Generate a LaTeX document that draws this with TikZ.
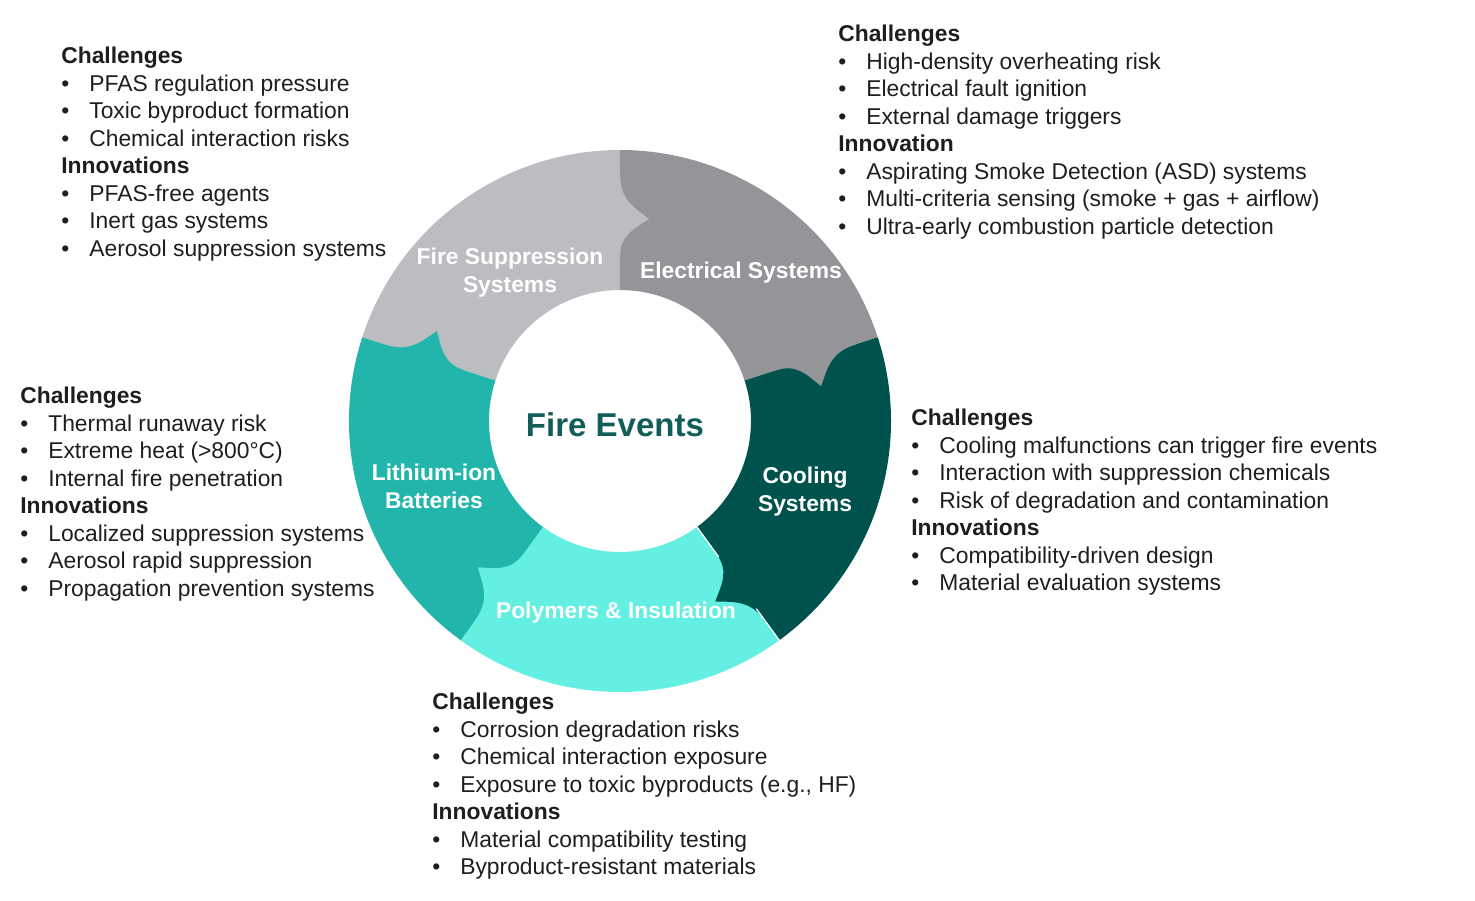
\documentclass[tikz,border=0pt]{standalone}
\usepackage{fontspec}
\setmainfont{Liberation Sans}
\definecolor{suppgray}{HTML}{BCBDC0}
\definecolor{elecgray}{HTML}{939598}
\definecolor{coolteal}{HTML}{00524C}
\definecolor{polycyan}{HTML}{63F0E2}
\definecolor{liionteal}{HTML}{21B5AC}
\definecolor{hubteal}{HTML}{115E59}
\definecolor{textdark}{HTML}{1E1E1E}
\tikzstyle{infobox}=[anchor=north west,inner sep=0pt,align=left,text=textdark,font=\fontsize{13}{15.65}\selectfont]
\tikzstyle{seglabel}=[text=white,align=center,inner sep=0pt,font=\bfseries\fontsize{13}{15.9}\selectfont]
\tikzstyle{hub}=[text=hubteal,inner sep=0pt,font=\bfseries\fontsize{18.8}{22}\selectfont]
\newcommand{\bul}{\makebox[0.56cm][l]{•}}

\begin{document}
\begin{tikzpicture}[x=0.02cm,y=0.02cm]
\useasboundingbox (-620,-479) rectangle (855,421);
% ring pieces
\foreach \a/\col in {162/suppgray,90/elecgray,18/coolteal,-54/polycyan,-126/liionteal}
  \fill[\col] (\a:271) arc[start angle=\a,end angle={\a-72},radius=271]
    -- ({\a-72}:131) arc[start angle={\a-72},end angle=\a,radius=131] -- cycle;
% puzzle knobs
\foreach \b/\col in {90/suppgray,18/elecgray,-54/coolteal,-126/polycyan,162/liionteal}
  \fill[\col,rotate=\b] (248,1) -- (248,0) .. controls (222,0) and (215,-12) .. (202,-29)
    .. controls (192,-14) and (186,0) .. (164,0) -- (164,1) -- cycle;
\draw[white,line width=0.7pt] (-54:131) -- (-54:168) (-54:232) -- (-54:271);

\node[seglabel] (fslabel) at (-110,148) {Fire Suppression\\Systems};
\node[seglabel] (ellabel) at (121,148) {Electrical Systems};
\node[seglabel] (colabel) at (185,-71) {Cooling\\Systems};
\node[seglabel] (lilabel) at (-186,-65) {Lithium-ion\\Batteries};
\node[seglabel] (polabel) at (-4,-192) {Polymers \& Insulation};
\node[hub] (events) at (-5,-4) {Fire Events};

\node[infobox] (fsinfo) at (-559,374) {\textbf{Challenges}\\
\bul PFAS regulation pressure\\
\bul Toxic byproduct formation\\
\bul Chemical interaction risks\\
\textbf{Innovations}\\
\bul PFAS-free agents\\
\bul Inert gas systems\\
\bul Aerosol suppression systems};

\node[infobox] (elinfo) at (218,396) {\textbf{Challenges}\\
\bul High-density overheating risk\\
\bul Electrical fault ignition\\
\bul External damage triggers\\
\textbf{Innovation}\\
\bul Aspirating Smoke Detection (ASD) systems\\
\bul Multi-criteria sensing (smoke + gas + airflow)\\
\bul Ultra-early combustion particle detection};

\node[infobox] (coinfo) at (291,12) {\textbf{Challenges}\\
\bul Cooling malfunctions can trigger fire events\\
\bul Interaction with suppression chemicals\\
\bul Risk of degradation and contamination\\
\textbf{Innovations}\\
\bul Compatibility-driven design\\
\bul Material evaluation systems};

\node[infobox] (liinfo) at (-600,34) {\textbf{Challenges}\\
\bul Thermal runaway risk\\
\bul Extreme heat (>800°C)\\
\bul Internal fire penetration\\
\textbf{Innovations}\\
\bul Localized suppression systems\\
\bul Aerosol rapid suppression\\
\bul Propagation prevention systems};

\node[infobox] (poinfo) at (-188,-272) {\textbf{Challenges}\\
\bul Corrosion degradation risks\\
\bul Chemical interaction exposure\\
\bul Exposure to toxic byproducts (e.g., HF)\\
\textbf{Innovations}\\
\bul Material compatibility testing\\
\bul Byproduct-resistant materials};
\end{tikzpicture}
\end{document}
